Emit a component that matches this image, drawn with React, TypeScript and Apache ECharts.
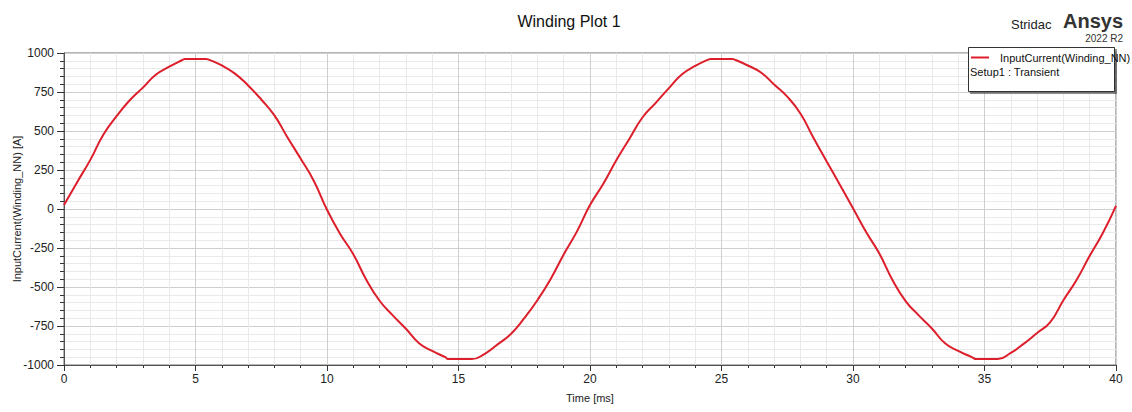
import React, { useEffect, useRef } from "react";
import * as echarts from "echarts";

const titleText = "Winding Plot 1";
const seriesName = "InputCurrent(Winding_NN)";
const setupText = "Setup1 : Transient";
const xAxisName = "Time [ms]";
const yAxisName = "InputCurrent(Winding_NN) [A]";

const timeMs = [
  0, 0.5, 1, 1.5, 2, 2.5, 3, 3.5, 4, 4.5, 4.6, 5, 5.4, 5.5, 6, 6.5, 7, 7.5, 8, 8.5, 9, 9.5,
  10, 10.5, 11, 11.5, 12, 12.5, 13, 13.5, 14, 14.5, 14.6, 15, 15.5, 16, 16.5, 17, 17.5, 18, 18.5, 19, 19.5,
  20, 20.5, 21, 21.5, 22, 22.5, 23, 23.5, 24, 24.5, 24.6, 25, 25.4, 25.5, 26, 26.5, 27, 27.5, 28, 28.5, 29, 29.5,
  30, 30.5, 31, 31.5, 32, 32.5, 33, 33.5, 34, 34.5, 34.7, 35, 35.5, 36, 36.5, 37, 37.5, 38, 38.5, 39, 39.5, 40,
];

const currentA = [
  25, 172, 315, 478, 595, 697, 778, 862, 912, 955, 962, 962, 962, 958, 920, 868, 792, 702, 600, 458, 322, 180,
  -5, -160, -290, -455, -588, -682, -768, -860, -910, -950, -962, -962, -962, -928, -866, -800, -700, -585, -450, -292, -145,
  25, 160, 312, 450, 588, 680, 775, 864, 917, 958, 962, 962, 962, 958, 920, 875, 798, 720, 612, 455, 305, 156,
  5, -148, -285, -455, -590, -682, -766, -861, -910, -948, -962, -962, -962, -922, -863, -795, -725, -585, -455, -300, -154, 20,
];

const yTicks = [-1000, 1000, 250];
const xTicks = [0, 40, 5];

export default function App() {
  const ref = useRef<HTMLDivElement>(null);
  useEffect(() => {
    document.body.style.margin = "0";
    const chart = echarts.init(ref.current!, null, { renderer: "svg" });
    const data = timeMs.map((t, i) => [t, currentA[i]]);
    const font = "'Liberation Sans', Arial, sans-serif";
    chart.setOption({
      animation: false,
      backgroundColor: "#ffffff",
      textStyle: { fontFamily: font },
      title: {
        text: titleText,
        left: 564,
        top: 8,
        textAlign: "center",
        textStyle: { fontSize: 16, fontWeight: "normal", color: "#111", fontFamily: font },
      },
      grid: {
        left: 64,
        right: 16,
        top: 53,
        bottom: 47,
        containLabel: false,
        outerBoundsMode: "none",
        show: true,
        borderColor: "#6a6a6a",
        borderWidth: 1,
      },
      legend: {
        left: 971,
        top: 52,
        itemWidth: 18,
        itemHeight: 2,
        itemGap: 4,
        icon: "rect",
        padding: 0,
        textStyle: { fontSize: 11, color: "#111", fontFamily: font, padding: [0, 0, 0, 6] },
        data: [{ name: seriesName, icon: "rect" }],
        z: 20,
      },
      xAxis: {
        type: "value",
        min: xTicks[0],
        max: xTicks[1],
        interval: xTicks[2],
        name: xAxisName,
        nameLocation: "middle",
        nameGap: 27,
        nameMoveOverlap: false,
        nameTextStyle: { fontSize: 11, color: "#222", fontFamily: font },
        axisLine: { show: true, onZero: false, lineStyle: { color: "#555" } },
        axisTick: { show: true, length: 6, lineStyle: { color: "#333" } },
        minorTick: { show: true, splitNumber: 5, length: 3, lineStyle: { color: "#333" } },
        axisLabel: { fontSize: 12, color: "#222", margin: 8, fontFamily: font, formatter: (v: number) => String(v) },
        splitLine: { show: true, lineStyle: { color: "#cfcfcf", width: 1 } },
        minorSplitLine: { show: true, lineStyle: { color: "#e9e9e9", width: 1 } },
      },
      yAxis: {
        type: "value",
        min: yTicks[0],
        max: yTicks[1],
        interval: yTicks[2],
        name: yAxisName,
        nameLocation: "middle",
        nameGap: 42,
        nameMoveOverlap: false,
        nameTextStyle: { fontSize: 11, color: "#222", fontFamily: font },
        axisLine: { show: true, onZero: false, lineStyle: { color: "#555" } },
        axisTick: { show: true, length: 7, lineStyle: { color: "#333" } },
        minorTick: { show: true, splitNumber: 5, length: 4, lineStyle: { color: "#333" } },
        axisLabel: { fontSize: 12, color: "#222", margin: 10, fontFamily: font, formatter: (v: number) => String(v) },
        splitLine: { show: true, lineStyle: { color: "#cfcfcf", width: 1 } },
        minorSplitLine: { show: true, lineStyle: { color: "#e9e9e9", width: 1 } },
      },
      series: [
        {
          name: seriesName,
          type: "line",
          data,
          showSymbol: false,
          smooth: 0.5,
          lineStyle: { color: "#dd1f2c", width: 2 },
          itemStyle: { color: "#dd1f2c" },
          z: 5,
        },
      ],
      graphic: [
        {
          type: "rect",
          left: 968,
          top: 47,
          shape: { width: 146, height: 44 },
          style: {
            fill: "#ffffff",
            stroke: "#333",
            lineWidth: 1,
            shadowColor: "rgba(0,0,0,0.45)",
            shadowOffsetX: 2,
            shadowOffsetY: 2,
            shadowBlur: 1,
          },
          z: 10,
        },
        {
          type: "text",
          left: 970,
          top: 66,
          style: { text: setupText, fontSize: 11, fill: "#111", fontFamily: font },
          z: 11,
        },
        {
          type: "text",
          left: 1011,
          top: 18,
          style: { text: "Stridac", fontSize: 13, fill: "#222", fontFamily: font },
          z: 11,
        },
        {
          type: "text",
          right: 9,
          top: 11,
          style: { text: "Ansys", fontSize: 20, fontWeight: "bold", fill: "#333", fontFamily: font },
          z: 11,
        },
        {
          type: "text",
          right: 9,
          top: 33,
          style: { text: "2022 R2", fontSize: 10, fill: "#333", fontFamily: font },
          z: 11,
        },
      ],
    });
    return () => chart.dispose();
  }, []);
  return <div ref={ref} style={{ width: 1132, height: 412 }} />;
}
